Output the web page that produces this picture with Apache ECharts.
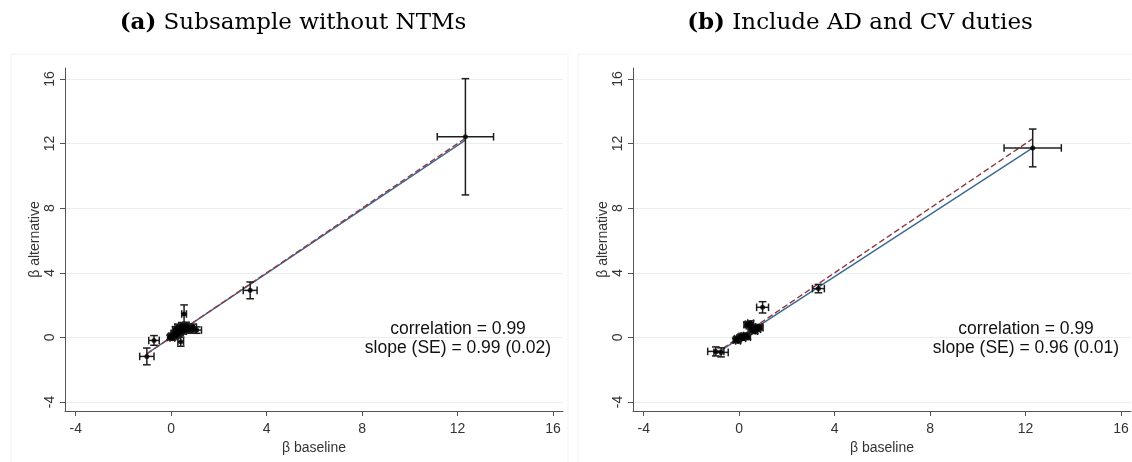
<!DOCTYPE html>
<html><head><meta charset="utf-8">
<script src="https://cdn.jsdelivr.net/npm/echarts@6/dist/echarts.min.js"></script>
<style>html,body{margin:0;padding:0;background:#fff}#c{width:1132px;height:462px}</style>
</head><body><div id="c"></div>
<script>
// ---- tick labels ----
const xTicks = [-4, 0, 4, 8, 12, 16];
const yTicks = [-4, 0, 4, 8, 12, 16];

// ---- panel (a): Subsample without NTMs ----
const aX  = [12.33, 3.31, -1.02, -0.72, 0.54, 0.40, 1.07,
  -0.05, 0.00, 0.05, 0.10, 0.12, 0.16, 0.20, 0.22, 0.26, 0.30, 0.32, 0.36, 0.38, 0.42,
  0.46, 0.50, 0.55, 0.60, 0.62, 0.66, 0.70, 0.76, 0.82, 0.88, 0.92, 0.18, 0.28, 0.44];
const aY  = [12.42, 2.91, -1.18, -0.19, 1.45, -0.27, 0.45,
  0.00, 0.08, -0.03, 0.12, 0.25, 0.05, 0.32, 0.15, 0.40, 0.22, 0.45, 0.55, 0.30, 0.48,
  0.60, 0.38, 0.62, 0.50, 0.72, 0.45, 0.62, 0.52, 0.58, 0.45, 0.62, 0.48, 0.62, 0.70];
const aXE = [1.18, 0.29, 0.30, 0.22, 0.10, 0.12, 0.20,
  0.10, 0.10, 0.10, 0.12, 0.12, 0.10, 0.12, 0.12, 0.12, 0.14, 0.12, 0.12, 0.12, 0.12,
  0.12, 0.14, 0.12, 0.14, 0.12, 0.14, 0.14, 0.14, 0.14, 0.16, 0.14, 0.12, 0.12, 0.12];
const aYE = [3.60, 0.52, 0.52, 0.30, 0.56, 0.28, 0.20,
  0.14, 0.14, 0.14, 0.16, 0.16, 0.14, 0.18, 0.16, 0.20, 0.16, 0.20, 0.20, 0.18, 0.20,
  0.22, 0.18, 0.22, 0.20, 0.22, 0.18, 0.20, 0.18, 0.18, 0.18, 0.20, 0.18, 0.20, 0.22];
const aLineX = [-1.02, 12.33];
const aFitY  = [-1.01, 12.21];
const aDiagY = [-1.02, 12.33];
const aNote  = ['correlation = 0.99', 'slope (SE) = 0.99 (0.02)'];

// ---- panel (b): Include AD and CV duties ----
const bX  = [12.30, 3.32, 0.98, -0.98, -0.76,
  -0.15, -0.10, -0.05, 0.00, 0.05, 0.10, 0.15, 0.20, 0.25, 0.30, 0.35, 0.38, 0.42, 0.48,
  0.50, 0.55, 0.60, 0.65, 0.70, 0.76, 0.82, 0.86, 0.32];
const bY  = [11.73, 3.02, 1.86, -0.87, -0.93,
  -0.18, -0.08, -0.22, -0.05, 0.02, 0.06, -0.06, 0.10, 0.04, 0.12, 0.00, 0.82, 0.72, 0.88,
  0.62, 0.42, 0.55, 0.38, 0.62, 0.50, 0.66, 0.60, 0.78];
const bXE = [1.20, 0.25, 0.25, 0.34, 0.30,
  0.10, 0.10, 0.10, 0.10, 0.10, 0.10, 0.12, 0.12, 0.12, 0.12, 0.12, 0.12, 0.12, 0.12,
  0.12, 0.12, 0.14, 0.12, 0.14, 0.14, 0.14, 0.14, 0.12];
const bYE = [1.17, 0.26, 0.35, 0.28, 0.28,
  0.12, 0.12, 0.12, 0.12, 0.12, 0.12, 0.12, 0.14, 0.12, 0.14, 0.12, 0.14, 0.14, 0.14,
  0.14, 0.14, 0.14, 0.14, 0.14, 0.14, 0.14, 0.14, 0.14];
const bLineX = [-1.00, 12.30];
const bFitY  = [-1.04, 11.73];
const bDiagY = [-1.00, 12.30];
const bNote  = ['correlation = 0.99', 'slope (SE) = 0.96 (0.01)'];

const titles = [['(a)', 'Subsample without NTMs'], ['(b)', 'Include AD and CV duties']];

// ---- styling ----
const SANS = 'Liberation Sans, Arial, sans-serif';
const SERIF = 'DejaVu Serif, serif';
const AXIS_C = '#555';
const LABEL_C = '#333';
const GRID_C = '#e8eff1';
const BAR_C = '#1e1e1e';
const FIT_C = '#3a6891';
const DIAG_C = '#8e3a42';

function errRender(params, api) {
  const x = api.value(0), y = api.value(1), xe = api.value(2), ye = api.value(3);
  const l = api.coord([x - xe, y]), r = api.coord([x + xe, y]);
  const t = api.coord([x, y + ye]), b = api.coord([x, y - ye]);
  const c = 3.8;
  const st = { stroke: BAR_C, lineWidth: 1.5 };
  const ln = (x1, y1, x2, y2) => ({ type: 'line', shape: { x1, y1, x2, y2 }, style: st });
  return { type: 'group', children: [
    ln(l[0], l[1], r[0], r[1]),
    ln(l[0], l[1] - c, l[0], l[1] + c),
    ln(r[0], r[1] - c, r[0], r[1] + c),
    ln(t[0], t[1], b[0], b[1]),
    ln(t[0] - c, t[1], t[0] + c, t[1]),
    ln(b[0] - c, b[1], b[0] + c, b[1])
  ] };
}

function xAxisDef(g) {
  return {
    type: 'value', gridIndex: g, min: -4.45, max: 16.42,
    axisLine: { show: true, onZero: false, lineStyle: { color: AXIS_C, width: 1 } },
    axisTick: { show: true, length: 5, customValues: xTicks, lineStyle: { color: AXIS_C } },
    axisLabel: { customValues: xTicks, color: LABEL_C, fontSize: 14, fontFamily: SANS, margin: 11 },
    splitLine: { show: false },
    name: 'β baseline', nameLocation: 'middle', nameGap: 26,
    nameTextStyle: { color: LABEL_C, fontSize: 14, fontFamily: SANS }
  };
}
function yAxisDef(g) {
  return {
    type: 'value', gridIndex: g, min: -4.56, max: 16.68,
    axisLine: { show: true, onZero: false, lineStyle: { color: AXIS_C, width: 1 } },
    axisTick: { show: true, length: 5, customValues: yTicks, lineStyle: { color: AXIS_C } },
    axisLabel: { customValues: yTicks, rotate: 90, color: LABEL_C, fontSize: 14, fontFamily: SANS, margin: 8 },
    splitLine: { show: true, lineStyle: { color: GRID_C, width: 1 } },
    name: 'β alternative', nameLocation: 'middle', nameGap: 18, nameRotate: 90,
    nameTextStyle: { color: LABEL_C, fontSize: 14, fontFamily: SANS }
  };
}

function panelSeries(g, X, Y, XE, YE, LX, FY, DY) {
  return [
    { type: 'line', xAxisIndex: g, yAxisIndex: g, data: LX.map((x, i) => [x, FY[i]]),
      symbol: 'none', lineStyle: { color: FIT_C, width: 1.4 }, z: 2, silent: true },
    { type: 'line', xAxisIndex: g, yAxisIndex: g, data: LX.map((x, i) => [x, DY[i]]),
      symbol: 'none', lineStyle: { color: DIAG_C, width: 1.4, type: [6, 3] }, z: 3, silent: true },
    { type: 'custom', xAxisIndex: g, yAxisIndex: g, renderItem: errRender,
      data: X.map((x, i) => [x, Y[i], XE[i], YE[i]]), encode: { x: 0, y: 1 }, z: 4, silent: true },
    { type: 'scatter', xAxisIndex: g, yAxisIndex: g, data: X.map((x, i) => [x, Y[i]]),
      symbol: 'circle', symbolSize: 5, itemStyle: { color: '#000' }, z: 5, silent: true }
  ];
}

const chart = echarts.init(document.getElementById('c'), null, { renderer: 'canvas' });

function titleText(idx, cx) {
  return { type: 'text', z: 10,
    style: { x: cx, y: 23, text: '{b|' + titles[idx][0] + '} ' + titles[idx][1],
      rich: { b: { fontWeight: 'bold', fontSize: 23, fontFamily: SERIF, fill: '#000' } },
      fontSize: 23, fontFamily: SERIF, fill: '#000', align: 'center', verticalAlign: 'middle' } };
}
function noteText(lines, cx) {
  return { type: 'text', z: 10,
    style: { x: cx, y: 339, text: lines.join('\n'), align: 'center', verticalAlign: 'middle',
      fontSize: 17.5, lineHeight: 19, fontFamily: SANS, fill: '#111' } };
}

chart.setOption({
  animation: false,
  backgroundColor: '#fff',
  grid: [
    { left: 65, right: 569, top: 68, bottom: 51 },
    { left: 633, right: 1, top: 68, bottom: 51 }
  ],
  xAxis: [xAxisDef(0), xAxisDef(1)],
  yAxis: [yAxisDef(0), yAxisDef(1)],
  series: [
    ...panelSeries(0, aX, aY, aXE, aYE, aLineX, aFitY, aDiagY),
    ...panelSeries(1, bX, bY, bXE, bYE, bLineX, bFitY, bDiagY)
  ],
  graphic: [
    { type: 'rect', shape: { x: 11, y: 54, width: 557, height: 420 }, style: { fill: 'none', stroke: '#f3f3f3', lineWidth: 1 }, z: 0 },
    { type: 'rect', shape: { x: 578, y: 54, width: 560, height: 420 }, style: { fill: 'none', stroke: '#f3f3f3', lineWidth: 1 }, z: 0 },
    titleText(0, 293),
    titleText(1, 860),
    noteText(aNote, 458),
    noteText(bNote, 1026)
  ]
});
</script>
</body></html>
